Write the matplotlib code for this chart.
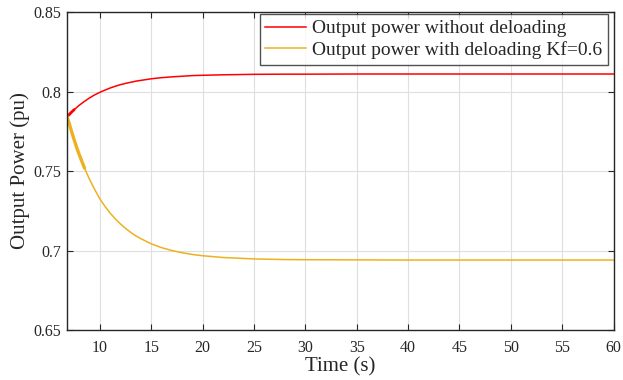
import matplotlib
matplotlib.use("Agg")
import matplotlib.pyplot as plt

plt.rcParams['font.family'] = ['Liberation Serif', 'DejaVu Serif']

# Time samples (s)
time_s = [6.75, 7.0, 7.25, 7.5, 7.75, 8.0, 8.5, 9.0, 9.5, 10.0, 10.5, 11.0,
          11.5, 12.0, 12.5, 13.0, 13.5, 14.0, 15.0, 16.0, 17.0, 18.0, 19.0,
          20.0, 22.0, 25.0, 28.0, 30.0, 35.0, 40.0, 50.0, 60.0]

# Output power without deloading (pu)
p_no_deload = [0.7840, 0.7854, 0.7871, 0.7886, 0.7900, 0.7914, 0.7938, 0.7960,
               0.7979, 0.7995, 0.8009, 0.8022, 0.8033, 0.8043, 0.8051, 0.8058,
               0.8065, 0.8070, 0.8080, 0.8087, 0.8092, 0.8096, 0.8100, 0.8102,
               0.8105, 0.8108, 0.8109, 0.8109, 0.8110, 0.8110, 0.8110, 0.8110]

# Output power with deloading, Kf = 0.6 (pu)
p_deload = [0.7850, 0.7803, 0.7747, 0.7695, 0.7646, 0.7601, 0.7519, 0.7446,
            0.7383, 0.7325, 0.7277, 0.7235, 0.7199, 0.7167, 0.7139, 0.7114,
            0.7092, 0.7074, 0.7042, 0.7018, 0.7000, 0.6986, 0.6975, 0.6967,
            0.6956, 0.6947, 0.6943, 0.6942, 0.6941, 0.6940, 0.6940, 0.6940]

# Number of leading samples where the switching ripple widens the trace
ripple_red = 4
ripple_gold = 7

x_ticks = [10, 15, 20, 25, 30, 35, 40, 45, 50, 55, 60]
y_ticks = [0.65, 0.7, 0.75, 0.8, 0.85]
y_tick_labels = ['0.65', '0.7', '0.75', '0.8', '0.85']

red = '#FF0000'
gold = '#EDB120'
ink = '#262626'

fig = plt.figure(figsize=(6.23, 3.80), dpi=100)
ax = fig.add_axes([66.5 / 623, 50 / 380, 547 / 623, 318 / 380])

l1, = ax.plot(time_s, p_no_deload, color=red, lw=1.1,
              label='Output power without deloading')
l2, = ax.plot(time_s, p_deload, color=gold, lw=1.1,
              label='Output power with deloading Kf=0.6')
ax.plot(time_s[:ripple_red], p_no_deload[:ripple_red], color=red, lw=2.0,
        solid_capstyle='round')
ax.plot(time_s[:ripple_gold], p_deload[:ripple_gold], color=gold, lw=2.4,
        solid_capstyle='round')

ax.set_xlim(6.75, 60)
ax.set_ylim(0.65, 0.85)
ax.set_xticks(x_ticks)
ax.set_yticks(y_ticks)
ax.set_yticklabels(y_tick_labels)

ax.grid(True, color='#DFDFDF', lw=0.8)
ax.set_axisbelow(True)
for s in ax.spines.values():
    s.set_color(ink)
    s.set_linewidth(1.0)
ax.tick_params(direction='in', top=True, right=True, length=4, width=0.8,
               color=ink, labelsize=11.5, labelcolor=ink)
ax.tick_params(axis='x', pad=7)
ax.tick_params(axis='y', pad=4)

ax.set_xlabel('Time (s)', fontsize=15, color=ink, labelpad=1)
ax.set_ylabel('Output Power (pu)', fontsize=15, color=ink, labelpad=2)

leg = ax.legend(handles=[l1, l2], loc='upper right',
                bbox_to_anchor=(0.990, 0.994), fontsize=14,
                frameon=True, fancybox=False, edgecolor=ink,
                borderaxespad=0.0, handlelength=2.1, handletextpad=0.3,
                borderpad=0.3, labelspacing=0.2)
leg.get_frame().set_linewidth(1.0)
for t in leg.get_texts():
    t.set_color(ink)

fig.savefig('out.png', dpi=100)
